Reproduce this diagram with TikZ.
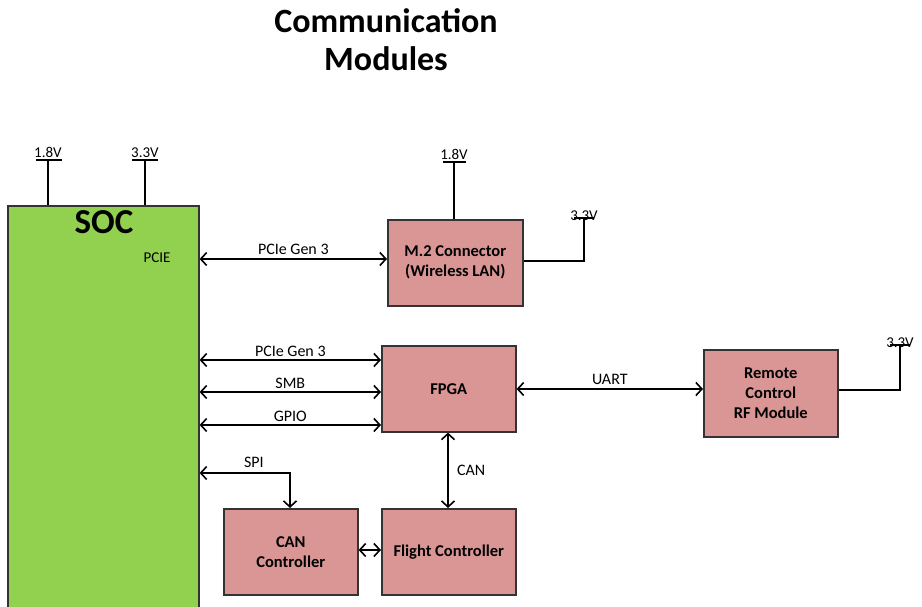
\documentclass[tikz,border=0pt]{standalone}
\usepackage{fontspec}
\setmainfont{Carlito}
\usetikzlibrary{arrows.meta}
\definecolor{socgreen}{HTML}{92D050}
\definecolor{boxred}{HTML}{D99694}
\definecolor{edge}{HTML}{333333}
\tikzset{
  blk/.style={draw=edge, line width=1.6pt, fill=boxred, align=center, font=\bfseries\fontsize{16.5}{20}\selectfont},
  wire/.style={line width=2pt, black},
  bus/.style={line width=2pt, black, {Straight Barb[length=6pt,width=13pt,line width=1.6pt]}-{Straight Barb[length=6pt,width=13pt,line width=1.6pt]}},
  lbl/.style={font=\fontsize{16}{18}\selectfont, inner sep=0pt},
  vlbl/.style={font=\fontsize{15}{17}\selectfont, inner sep=0pt, anchor=south},
}
\begin{document}
\begin{tikzpicture}[x=1pt,y=-1pt]
\useasboundingbox (0,0) rectangle (922,607);
% title
\node[font=\bfseries\fontsize{34}{38}\selectfont, align=center] (title) at (386,40) {Communication\\Modules};
% SOC
\node[draw=edge, line width=1.6pt, fill=socgreen, minimum width=191pt, minimum height=420pt, anchor=north west, inner sep=0pt] (soc) at (7,205) {};
\node[font=\bfseries\fontsize{35}{40}\selectfont, inner sep=0pt] (soct) at (104,222) {SOC};
\node[font=\fontsize{15}{17}\selectfont, inner sep=0pt] (pcie) at (157,258) {PCIE};
% blocks
\node[blk, minimum width=135pt, minimum height=86pt, anchor=north west, inner sep=0pt] (m2) at (387,219) {M.2 Connector\\(Wireless LAN)};
\node[blk, minimum width=134pt, minimum height=86pt, anchor=north west, inner sep=0pt] (fpga) at (381,345) {FPGA};
\node[blk, minimum width=134pt, minimum height=87pt, anchor=north west, inner sep=0pt] (rc) at (703,349) {Remote\\Control\\RF Module};
\node[blk, minimum width=134pt, minimum height=86pt, anchor=north west, inner sep=0pt] (canc) at (223,508) {CAN\\Controller};
\node[blk, minimum width=134pt, minimum height=86pt, anchor=north west, inner sep=0pt] (fc) at (381,508) {Flight Controller};
% power rails
\coordinate (p1) at (48,160);
\coordinate (p2) at (145,160);
\coordinate (p3) at (454,162);
\coordinate (p4) at (584,218);
\coordinate (p5) at (900,345);
\draw[wire] (p1) -- (p1 |- soc.north);
\draw[wire] (36,160) -- (62,160);
\node[vlbl] (v1) at (48,158) {1.8V};
\draw[wire] (p2) -- (p2 |- soc.north);
\draw[wire] (132,160) -- (158,160);
\node[vlbl] (v2) at (145,158) {3.3V};
\draw[wire] (p3) -- (p3 |- m2.north);
\draw[wire] (443,162) -- (466,162);
\node[vlbl] (v3) at (454,160) {1.8V};
\draw[wire] (m2.east |- 0,261) -| (p4);
\draw[wire] (574,218) -- (594,218);
\node[vlbl] (v4) at (584,221) {3.3V};
\draw[wire] (rc.east |- 0,390) -| (p5);
\draw[wire] (890,345) -- (910,345);
\node[vlbl] (v5) at (900,348) {3.3V};
% buses
\draw[bus] (soc.east |- 0,259) -- (m2.west |- 0,259) node[lbl, midway, above=3pt] {PCIe Gen 3};
\draw[bus] (soc.east |- 0,360) -- (fpga.west |- 0,360) node[lbl, midway, above=2pt] {PCIe Gen 3};
\draw[bus] (soc.east |- 0,392) -- (fpga.west |- 0,392) node[lbl, midway, above=2pt] {SMB};
\draw[bus] (soc.east |- 0,425) -- (fpga.west |- 0,425) node[lbl, midway, above=2pt] {GPIO};
\draw[bus] (fpga.east |- 0,389) -- (rc.west |- 0,389) node[lbl, midway, above=3pt] {UART};
\draw[bus] (fpga.south -| 448,0) -- (fc.north -| 448,0) node[lbl, midway, right=8pt] {CAN};
\draw[bus] (canc.east |- 0,550) -- (fc.west |- 0,550);
\draw[bus] (soc.east |- 0,473) -| (canc.north -| 290,0) node[lbl, pos=0.3, above=4pt] {SPI};
\end{tikzpicture}
\end{document}
